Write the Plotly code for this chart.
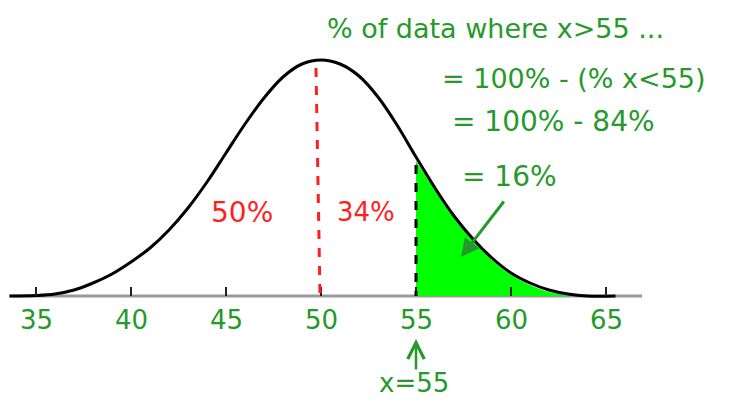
import plotly.graph_objects as go

# curve (x value, height above axis)
curve_x = [33.6, 35.0, 36, 37, 38, 39, 40, 41, 42, 43, 44, 45, 46, 47, 48, 49, 50,
           51, 52, 53, 54, 55, 56, 57, 58, 59, 60, 61, 62, 63, 64, 65.5]
curve_h = [0, 0.5, 2, 6, 13, 22, 34, 48, 66, 88, 114, 143, 172, 198, 219, 232, 236,
           232, 220, 199, 171, 139, 108, 80, 57, 38, 23, 13, 6, 2, 0, 0]
# shaded tail x > 55
tail_x = [55, 56, 57, 58, 59, 60, 61, 62, 63.3]
tail_h = [135, 106, 78, 55, 36, 21, 11, 4, 0]

tick_vals = [35, 40, 45, 50, 55, 60, 65]
tick_text = ["35", "40", "45", "50", "55", "60", "65"]

mean_x = 50
cut_x = 55
cut_h = 131
region_labels = ["50%", "34%"]
notes = ["% of data where x>55 ...", "= 100% - (% x<55)", "= 100% - 84%", "= 16%"]

GREEN = "#26992b"
RED = "#ff1f1f"
FONT = "DejaVu Sans"


def px_x(p):
    return 35 + (p - 36) / 19.0


def px_y(p):
    return 296 - p


fig = go.Figure()

# tail fill
fig.add_trace(go.Scatter(
    x=tail_x, y=tail_h, fill="tozeroy", fillcolor="#00ff00",
    line=dict(width=0, shape="spline", color="#00ff00"), mode="lines",
    hoverinfo="skip", showlegend=False))

# axis line
fig.add_shape(type="line", x0=px_x(10), x1=px_x(642), y0=0, y1=0,
              line=dict(color="#9a9a9a", width=3), layer="below")
# ticks
for v in tick_vals:
    fig.add_shape(type="line", x0=v, x1=v, y0=0, y1=9,
                  line=dict(color="#222222", width=2))

# curve
fig.add_trace(go.Scatter(x=curve_x, y=curve_h, mode="lines",
                         line=dict(color="black", width=3, shape="spline", smoothing=1),
                         hoverinfo="skip", showlegend=False))

# red dashed mean line
fig.add_shape(type="line", x0=px_x(316), x1=px_x(320), y0=228, y1=0,
              line=dict(color=RED, width=3, dash="dash"))
# black dashed cut line
fig.add_shape(type="line", x0=cut_x, x1=cut_x, y0=cut_h, y1=0,
              line=dict(color="black", width=3, dash="dash"))

# tick labels
for v, t in zip(tick_vals, tick_text):
    fig.add_annotation(x=v, y=px_y(320), text=t, showarrow=False,
                       font=dict(family=FONT, size=26, color=GREEN))

# region labels
region_pos = [(242, 212, 28), (366, 212, 26)]
for t, (xp, yp, fs) in zip(region_labels, region_pos):
    fig.add_annotation(x=px_x(xp), y=px_y(yp), text=t, showarrow=False,
                       font=dict(family=FONT, size=fs, color=RED))

# notes
note_pos = [(325, 28, 27), (440, 78, 27), (450, 121, 28), (460, 176, 28)]
for t, (xp, yp, fs) in zip(notes, note_pos):
    fig.add_annotation(x=px_x(xp), y=px_y(yp), text=t, showarrow=False,
                       xanchor="left", font=dict(family=FONT, size=fs, color=GREEN))

# arrow to tail
fig.add_annotation(x=px_x(461), y=px_y(257), ax=44, ay=-57, text="", showarrow=True,
                   arrowhead=2, arrowsize=1.2, arrowwidth=3, arrowcolor=GREEN)
# up arrow to x=55
fig.add_annotation(x=cut_x, y=px_y(339), ax=0, ay=32, text="", showarrow=True,
                   arrowhead=5, arrowsize=1.3, arrowwidth=2.5, arrowcolor=GREEN)
fig.add_annotation(x=px_x(414), y=px_y(383), text="x=55", showarrow=False,
                   font=dict(family=FONT, size=26, color=GREEN))

# page has an 8px body margin, so shift ranges to place marks at page pixels
fig.update_xaxes(range=[px_x(8), px_x(8 + 736)], visible=False, fixedrange=True)
fig.update_yaxes(range=[px_y(8 + 411), px_y(8)], visible=False, fixedrange=True)
fig.update_layout(width=736, height=411, margin=dict(l=0, r=0, t=0, b=0),
                  paper_bgcolor="white", plot_bgcolor="white", showlegend=False)

fig.write_html("out.html")
